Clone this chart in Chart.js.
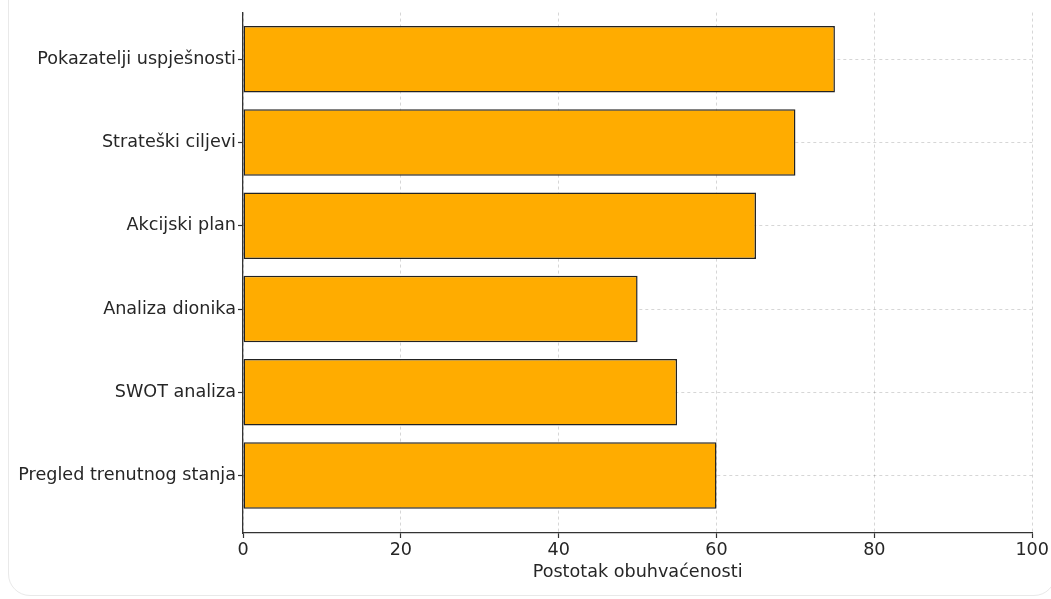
<!DOCTYPE html>
<html>
<head>
<meta charset="utf-8">
<script src="https://cdn.jsdelivr.net/npm/chart.js@4.4.0/dist/chart.umd.min.js"></script>
<style>
  html, body { margin: 0; padding: 0; background: #fff; overflow: hidden; }
  #card {
    position: absolute; left: 8px; top: -40px; width: 1048px; height: 636px;
    border: 1px solid #e9e9e9; border-radius: 22px; box-sizing: border-box;
  }
  #wrap { position: absolute; left: 0; top: 0; width: 1051px; height: 599px; }
</style>
</head>
<body>
<div id="card"></div>
<div id="wrap"><canvas id="barChart" width="1051" height="599"></canvas></div>
<script>
// bottom to top, same order as the plot
var categories = ["Pregled trenutnog stanja", "SWOT analiza", "Analiza dionika", "Akcijski plan", "Strateški ciljevi", "Pokazatelji uspješnosti"];
var coverage = [60, 55, 50, 65, 70, 75];
var xTicks = [0, 20, 40, 60, 80, 100];

var textColor = '#262626';
var font = { family: "'DejaVu Sans', sans-serif", size: 17.6 };

var ctxB = document.getElementById("barChart").getContext('2d');
var myBarChart = new Chart(ctxB, {
  type: 'bar',
  data: {
    datasets: [{
      label: "Postotak obuhvaćenosti",
      data: categories.map(function(c, i) { return { x: coverage[i], y: i }; }),
      backgroundColor: '#ffac00',
      borderColor: '#222',
      borderWidth: 1.5,
      borderSkipped: false,
      categoryPercentage: 1,
      barPercentage: 0.8
    }]
  },
  options: {
    responsive: false,
    animation: false,
    indexAxis: 'y',
    layout: { padding: { left: 0, top: 12, right: 18, bottom: 16 } },
    plugins: { legend: { display: false }, tooltip: { enabled: false } },
    scales: {
      x: {
        type: 'linear',
        min: 0,
        max: 100,
        z: 1,
        afterBuildTicks: function(scale) {
          scale.ticks = xTicks.map(function(v) { return { value: v }; });
        },
        ticks: { color: textColor, font: font, padding: 2, maxRotation: 0 },
        grid: {
          color: 'rgba(0,0,0,0.16)', lineWidth: 1,
          tickColor: '#333', tickLength: 5, tickWidth: 1.2, tickBorderDash: []
        },
        border: { color: '#333', width: 1.3, dash: [3, 3] },
        title: {
          display: true, text: "Postotak obuhvaćenosti",
          color: textColor, font: font, padding: 0
        },
        afterFit: function(scale) { scale.height = 599 - 533 - 16; }
      },
      y: {
        type: 'linear',
        min: -0.69,
        max: 5.56,
        offset: false,
        z: 1,
        afterBuildTicks: function(scale) {
          scale.ticks = categories.map(function(c, i) { return { value: i }; });
        },
        ticks: {
          color: textColor, font: font, padding: 2,
          callback: function(v) { return categories[v]; }
        },
        grid: {
          offset: false,
          color: 'rgba(0,0,0,0.16)', lineWidth: 1,
          tickColor: '#333', tickLength: 5, tickWidth: 1.2, tickBorderDash: []
        },
        border: { color: '#333', width: 1.3, dash: [3, 3] },
        afterFit: function(scale) { scale.width = 243; }
      }
    }
  }
});
</script>
</body>
</html>
